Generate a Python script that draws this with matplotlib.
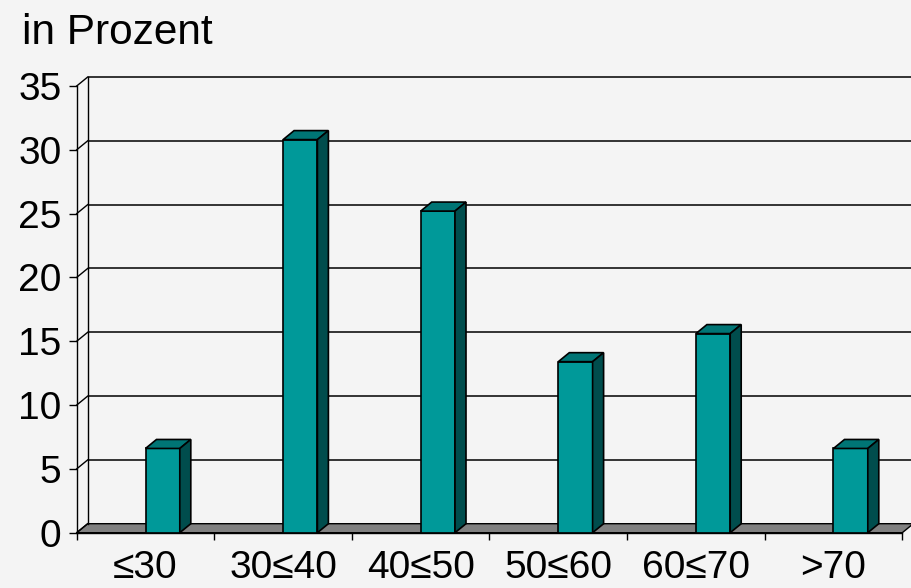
import matplotlib
matplotlib.use("Agg")
import matplotlib.pyplot as plt
from matplotlib.patches import Polygon

plt.rcParams['font.family'] = ['Liberation Sans', 'DejaVu Sans']

categories = ["≤30", "30≤40", "40≤50", "50≤60", "60≤70", ">70"]
values = [6.6, 30.8, 25.2, 13.4, 15.6, 6.6]
yticks = [0, 5, 10, 15, 20, 25, 30, 35]
title = "in Prozent"

W, H = 911, 588
fig = plt.figure(figsize=(W / 100, H / 100), dpi=100)
fig.patch.set_facecolor('#f4f4f4')

# front plane: x 76.7..902.3 px, y 532.7..86 px
left, right = 76.7 / W, 902.3 / W
bottom, top = (H - 532.7) / H, (H - 86) / H
ax = fig.add_axes([left, bottom, right - left, top - bottom])
ax.set_facecolor('none')
n = len(categories)
ymax = 35
ax.set_xlim(0, n)
ax.set_ylim(0, ymax)

px_x = (902.3 - 76.7) / n
px_y = (532.7 - 86) / ymax
dx = 11 / px_x
dy = 9 / px_y

# floor
floor = Polygon([(0, 0), (n, 0), (n + dx, dy), (dx, dy)], closed=True,
                facecolor='#808080', edgecolor='black', lw=1.0, clip_on=False, zorder=1)
ax.add_patch(floor)

# back wall gridlines and left wall connectors
for v in yticks:
    if v > 0:
        ax.plot([dx, n + dx + 0.2], [v + dy, v + dy], color='#333333', lw=1.4,
                clip_on=False, zorder=2, solid_capstyle='butt')
    ax.plot([0, dx], [v, v + dy], color='black', lw=1.0, clip_on=False, zorder=2)
ax.plot([dx, dx], [dy, ymax + dy], color='black', lw=1.0, clip_on=False, zorder=2)

# bars
w = 34.3 / px_x
for i, v in enumerate(values):
    x0 = i + 0.5
    front = Polygon([(x0, 0), (x0 + w, 0), (x0 + w, v), (x0, v)], closed=True,
                    facecolor='#009999', edgecolor='black', lw=1.2, clip_on=False, zorder=5)
    topf = Polygon([(x0, v), (x0 + w, v), (x0 + w + dx, v + dy), (x0 + dx, v + dy)], closed=True,
                   facecolor='#007575', edgecolor='black', lw=1.2, clip_on=False, zorder=5)
    side = Polygon([(x0 + w, 0), (x0 + w + dx, dy), (x0 + w + dx, v + dy), (x0 + w, v)], closed=True,
                   facecolor='#004d4d', edgecolor='black', lw=1.2, clip_on=False, zorder=5)
    for p in (front, topf, side):
        ax.add_patch(p)

for s in ('top', 'right'):
    ax.spines[s].set_visible(False)
for s in ('left', 'bottom'):
    ax.spines[s].set_linewidth(1.0)
    ax.spines[s].set_zorder(6)

ax.set_yticks(yticks)
ax.set_yticklabels([str(v) for v in yticks])
ax.set_xticks(range(n + 1))
ax.set_xticklabels([])
ax.set_xticks([i + 0.5 for i in range(n)], minor=True)
ax.set_xticklabels(categories, minor=True)
ax.tick_params(axis='y', length=6, width=1.0, pad=5, labelsize=28, direction='out')
ax.tick_params(axis='x', which='major', length=5, width=1.0, direction='out')
ax.tick_params(axis='x', which='minor', length=0, pad=12.5, labelsize=28)

fig.text(22 / W, 1 - 44.5 / H, title, fontsize=30.5, ha='left', va='baseline')

fig.savefig('out.png', dpi=100, facecolor=fig.get_facecolor())
